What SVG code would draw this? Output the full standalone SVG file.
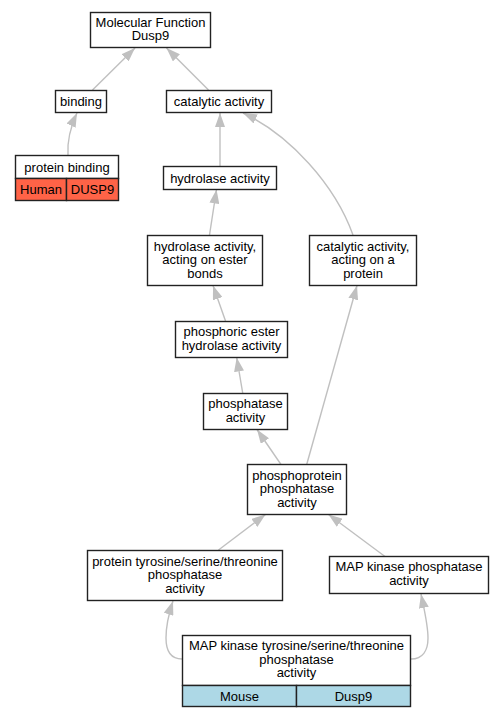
<svg xmlns="http://www.w3.org/2000/svg" width="503" height="717" viewBox="0 0 503 717">
<style>
text{font-family:"Liberation Sans",Arial,sans-serif;font-size:13px;fill:#000;text-anchor:middle}
.box{fill:#fff;stroke:#222;stroke-width:1.4}
.human{fill:#ff6347;stroke:#222;stroke-width:1.4}
.mouse{fill:#add8e6;stroke:#222;stroke-width:1.4}
.edge{fill:none;stroke:#c0c0c0;stroke-width:1.4;marker-end:url(#arr)}
</style>
<defs>
<marker id="arr" markerUnits="userSpaceOnUse" viewBox="0 0 14 10" refX="14" refY="5" markerWidth="14" markerHeight="10" orient="auto">
<path d="M0,0 L14,5 L0,10 Z" fill="#c0c0c0"/>
</marker>
</defs>
<rect width="503" height="717" fill="#fff"/>
<g id="connectors">
<path class="edge" d="M92.5,90 L135,48"/>
<path class="edge" d="M208.5,90 L166.5,48"/>
<path class="edge" d="M68,155 C67,140 70,128 77,113"/>
<path class="edge" d="M220,166 L220,113"/>
<path class="edge" d="M353,235 C335,185 290,135 243,113"/>
<path class="edge" d="M209.5,235 L216.5,189.5"/>
<path class="edge" d="M225.7,321.5 L213,285.5"/>
<path class="edge" d="M242.7,393 L236.7,357.5"/>
<path class="edge" d="M281,464.5 L257,429.5"/>
<path class="edge" d="M306.7,464.5 L357,285.5"/>
<path class="edge" d="M218.5,550 L265.5,514.5"/>
<path class="edge" d="M385,556.5 L328.5,514.5"/>
<path class="edge" d="M182,659 C170,659 166,650 166,638 C166,625 169,613 173,601"/>
<path class="edge" d="M411,659 C423,659 428,650 428,638 C428,625 425,613 421,594"/>
</g>
<g id="mf">
<rect class="box" x="90.5" y="12.5" width="120" height="35"/>
<text x="150.5" y="26.5">Molecular Function</text>
<text x="150.5" y="40">Dusp9</text>
</g>
<g id="binding">
<rect class="box" x="55.5" y="90.5" width="51" height="22"/>
<text x="81" y="106">binding</text>
</g>
<g id="catalytic">
<rect class="box" x="166.5" y="90.5" width="105" height="22"/>
<text x="219" y="106">catalytic activity</text>
</g>
<g id="protein-binding">
<rect class="box" x="15.5" y="155.5" width="103" height="23"/>
<rect class="human" x="15.5" y="178.5" width="51" height="22"/>
<rect class="human" x="66.5" y="178.5" width="52" height="22"/>
<text x="67" y="171.5">protein binding</text>
<text x="41" y="194">Human</text>
<text x="92.5" y="194">DUSP9</text>
</g>
<g id="hydrolase">
<rect class="box" x="163.5" y="166.5" width="113" height="23"/>
<text x="220" y="182.5">hydrolase activity</text>
</g>
<g id="hydrolase-ester">
<rect class="box" x="147.5" y="235.5" width="115" height="50"/>
<text x="205" y="250.5">hydrolase activity,</text>
<text x="205" y="264">acting on ester</text>
<text x="205" y="277.5">bonds</text>
</g>
<g id="catalytic-protein">
<rect class="box" x="309.5" y="235.5" width="107" height="50"/>
<text x="363" y="250.5">catalytic activity,</text>
<text x="363" y="264">acting on a</text>
<text x="363" y="277.5">protein</text>
</g>
<g id="phosphoric">
<rect class="box" x="175.5" y="321.5" width="112" height="36"/>
<text x="231.5" y="336">phosphoric ester</text>
<text x="231.5" y="349.5">hydrolase activity</text>
</g>
<g id="phosphatase">
<rect class="box" x="203.5" y="393.5" width="84" height="36"/>
<text x="245.5" y="408">phosphatase</text>
<text x="245.5" y="421.5">activity</text>
</g>
<g id="phosphoprotein">
<rect class="box" x="247.5" y="464.5" width="99" height="50"/>
<text x="297" y="479.5">phosphoprotein</text>
<text x="297" y="493">phosphatase</text>
<text x="297" y="506.5">activity</text>
</g>
<g id="protein-tyr">
<rect class="box" x="87.5" y="550.5" width="195" height="50"/>
<text x="185" y="565.5">protein tyrosine/serine/threonine</text>
<text x="185" y="579">phosphatase</text>
<text x="185" y="592.5">activity</text>
</g>
<g id="map-kp">
<rect class="box" x="329.5" y="556.5" width="159" height="37"/>
<text x="409" y="571">MAP kinase phosphatase</text>
<text x="409" y="584.5">activity</text>
</g>
<g id="map-tyr">
<rect class="box" x="182.5" y="635.5" width="228" height="50"/>
<rect class="mouse" x="182.5" y="685.5" width="114" height="21"/>
<rect class="mouse" x="296.5" y="685.5" width="114" height="21"/>
<text x="296.5" y="650">MAP kinase tyrosine/serine/threonine</text>
<text x="296.5" y="663.5">phosphatase</text>
<text x="296.5" y="677">activity</text>
<text x="239.5" y="700.5">Mouse</text>
<text x="353.5" y="700.5">Dusp9</text>
</g>
</svg>
